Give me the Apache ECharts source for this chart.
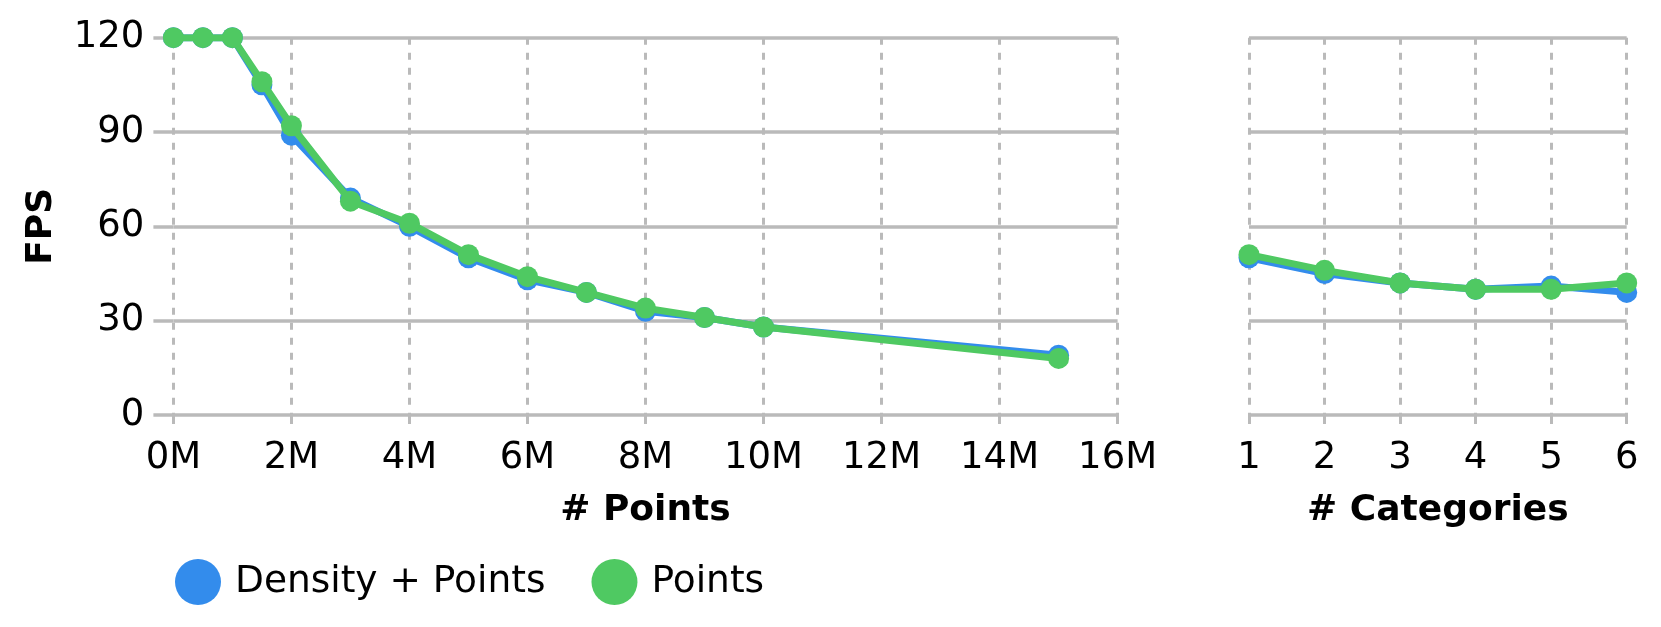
<!DOCTYPE html>
<html>
<head>
<meta charset="utf-8">
<script src="https://cdn.jsdelivr.net/npm/echarts@6/dist/echarts.min.js"></script>
<style>
html,body{margin:0;padding:0;background:#fff;}
#chart{width:1661px;height:627px;}
</style>
</head>
<body>
<div id="chart"></div>
<script>
// ---- data ----
const pointCounts = [0, 500000, 1000000, 1500000, 2000000, 3000000, 4000000, 5000000, 6000000, 7000000, 8000000, 9000000, 10000000, 15000000];
const densityPointsFps = [120, 120, 120, 105, 89, 69, 60, 50, 43, 39, 33, 31, 28, 19];
const pointsFps = [120, 120, 120, 106, 92, 68, 61, 51, 44, 39, 34, 31, 28, 18];
const categoryCounts = ['1', '2', '3', '4', '5', '6'];
const densityPointsCatFps = [50, 45, 42, 40, 41, 39];
const pointsCatFps = [51, 46, 42, 40, 40, 42];
const seriesNames = ['Density + Points', 'Points'];
const colors = ['#338cec', '#4fc962'];

const FONT = 'DejaVu Sans';
const GRID_C = '#bababa';
const FS = 37;

const chart = echarts.init(document.getElementById('chart'), null, {renderer: 'canvas'});

function pairs(xs, ys) { return xs.map((x, i) => [x, ys[i]]); }

const lineSeries = (name, data, xi, color, z) => ({
  name: name, type: 'line', xAxisIndex: xi, yAxisIndex: xi, data: data,
  symbol: 'circle', symbolSize: 21, showSymbol: true,
  lineStyle: {width: 7, color: color}, itemStyle: {color: color},
  z: z, animation: false
});

const yAxisBase = (idx) => ({
  type: 'value', gridIndex: idx, min: 0, max: 120, interval: 30,
  axisLine: {show: false},
  axisTick: {show: idx === 0, length: 20, lineStyle: {color: GRID_C, width: 3.5}},
  axisLabel: {show: idx === 0, fontFamily: FONT, fontSize: FS, color: '#000', margin: 29},
  splitLine: {show: true, lineStyle: {color: GRID_C, width: 3.5, type: 'solid'}},
  name: idx === 0 ? 'FPS' : '',
  nameLocation: 'middle', nameRotate: 90, nameGap: 114,
  nameTextStyle: {fontFamily: FONT, fontSize: 36, fontWeight: 'bold', color: '#000'}
});

chart.setOption({
  backgroundColor: '#fff',
  animation: false,
  grid: [
    {left: 173.4, top: 37.7, width: 944.2, height: 377.3, containLabel: false},
    {left: 1249, top: 37.7, width: 377.7, height: 377.3, containLabel: false}
  ],
  legend: {
    data: seriesNames, left: 170, top: 554, orient: 'horizontal',
    icon: 'circle', itemWidth: 46, itemHeight: 46, itemGap: 46,
    textStyle: {fontFamily: FONT, fontSize: 37.5, color: '#000', padding: [0, 0, 0, 9]}
  },
  xAxis: [
    {
      type: 'value', gridIndex: 0, min: 0, max: 16000000, interval: 2000000,
      axisLine: {show: false},
      axisTick: {show: true, length: 9, lineStyle: {color: GRID_C, width: 3}},
      axisLabel: {fontFamily: FONT, fontSize: FS, color: '#000', margin: 25,
        formatter: v => (v / 1000000) + 'M'},
      splitLine: {show: true, lineStyle: {color: GRID_C, width: 3, type: [7, 8]}},
      name: '# Points', nameLocation: 'middle', nameGap: 78,
      nameTextStyle: {fontFamily: FONT, fontSize: 36, fontWeight: 'bold', color: '#000'}
    },
    {
      type: 'category', gridIndex: 1, data: categoryCounts, boundaryGap: false,
      axisLine: {show: false},
      axisTick: {show: true, length: 9, alignWithLabel: true, interval: 0, lineStyle: {color: GRID_C, width: 3}},
      axisLabel: {fontFamily: FONT, fontSize: FS, color: '#000', margin: 25, interval: 0},
      splitLine: {show: true, interval: 0, lineStyle: {color: GRID_C, width: 3, type: [7, 8]}},
      name: '# Categories', nameLocation: 'middle', nameGap: 78,
      nameTextStyle: {fontFamily: FONT, fontSize: 36, fontWeight: 'bold', color: '#000'}
    }
  ],
  yAxis: [yAxisBase(0), yAxisBase(1)],
  series: [
    lineSeries(seriesNames[0], pairs(pointCounts, densityPointsFps), 0, colors[0], 2),
    lineSeries(seriesNames[1], pairs(pointCounts, pointsFps), 0, colors[1], 3),
    lineSeries(seriesNames[0], densityPointsCatFps, 1, colors[0], 2),
    lineSeries(seriesNames[1], pointsCatFps, 1, colors[1], 3)
  ]
});
</script>
</body>
</html>
